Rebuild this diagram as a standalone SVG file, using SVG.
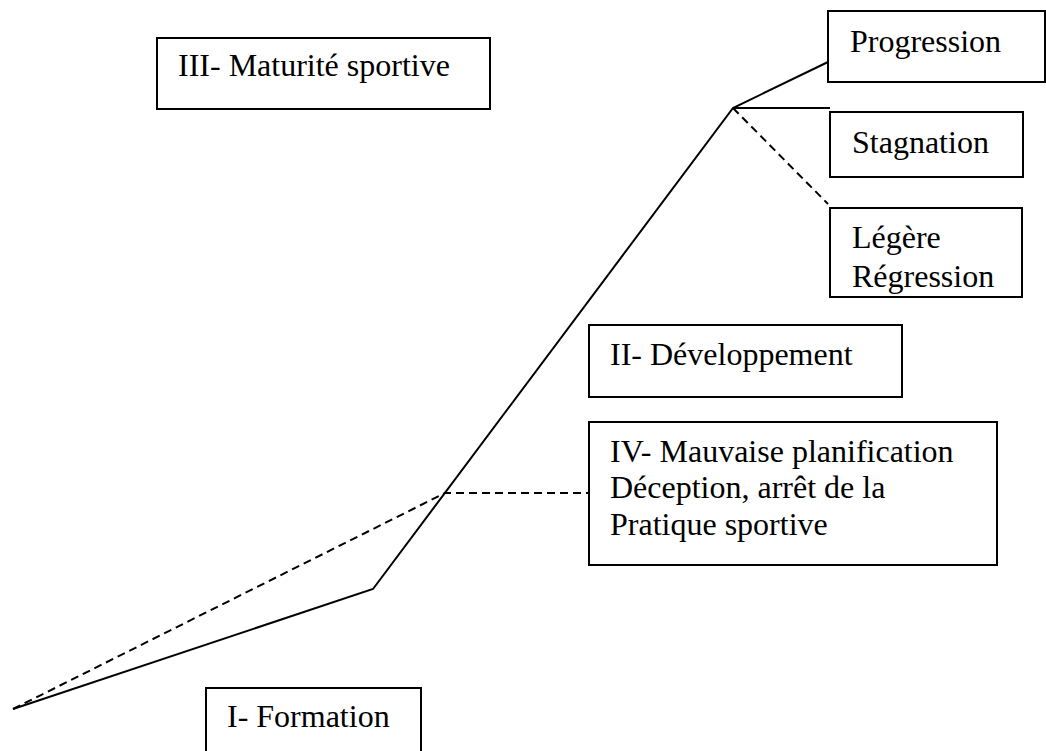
<svg xmlns="http://www.w3.org/2000/svg" width="1046" height="751" viewBox="0 0 1046 751">
<style>
.box{fill:#fff;stroke:#000;stroke-width:2}
.t{font-family:"Liberation Serif","Times New Roman",serif;font-size:32px;fill:#000}
.ln{fill:none;stroke:#000;stroke-width:2}
.dash{fill:none;stroke:#000;stroke-width:2;stroke-dasharray:8 5}
</style>
<rect width="1046" height="751" fill="#fff"/>
<g id="connectors">
<polyline class="ln" points="13,709 373,589 733,108 828,62"/>
<line class="ln" x1="733" y1="108" x2="830" y2="108"/>
<line class="dash" x1="733" y1="108" x2="828" y2="204"/>
<polyline class="dash" points="13,709 445,493 589,493"/>
</g>
<g id="n3"><rect class="box" x="157" y="38" width="333" height="71"/><text class="t" x="178" y="76">III- Maturité sportive</text></g>
<g id="prog"><rect class="box" x="828" y="11" width="217" height="71"/><text class="t" x="850" y="52">Progression</text></g>
<g id="stag"><rect class="box" x="830" y="112" width="193" height="65"/><text class="t" x="852" y="153">Stagnation</text></g>
<g id="reg"><rect class="box" x="830" y="208" width="192" height="89"/><text class="t" x="852" y="248">Légère</text><text class="t" x="852" y="287">Régression</text></g>
<g id="n2"><rect class="box" x="589" y="325" width="313" height="72"/><text class="t" x="610" y="365">II- Développement</text></g>
<g id="n4"><rect class="box" x="589" y="422" width="408" height="143"/><text class="t" x="610" y="462">IV- Mauvaise planification</text><text class="t" x="610" y="498">Déception, arrêt de la</text><text class="t" x="610" y="535">Pratique sportive</text></g>
<g id="n1"><rect class="box" x="206" y="688" width="215" height="80"/><text class="t" x="227" y="727">I- Formation</text></g>
</svg>
